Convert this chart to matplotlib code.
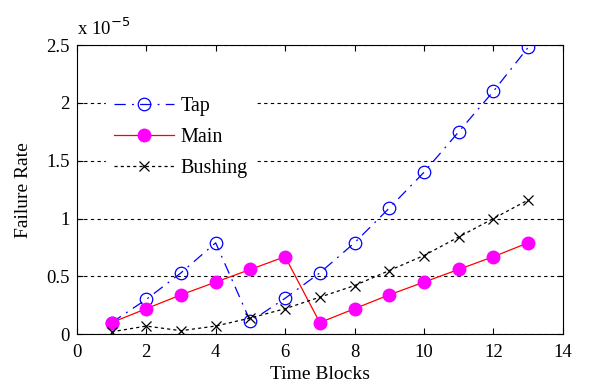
import matplotlib
matplotlib.use('Agg')
from matplotlib import pyplot as plt

blocks = list(range(1, 14))
tap = [0.10, 0.30, 0.53, 0.79, 0.11, 0.31, 0.53, 0.79, 1.09, 1.40, 1.75, 2.10, 2.48]
main = [0.10, 0.22, 0.34, 0.45, 0.56, 0.67, 0.10, 0.22, 0.34, 0.45, 0.56, 0.67, 0.79]
bushing = [0.02, 0.07, 0.03, 0.07, 0.14, 0.22, 0.32, 0.42, 0.55, 0.68, 0.84, 1.00, 1.16]

plt.rcParams['font.family'] = ['Liberation Serif', 'DejaVu Serif']
plt.rcParams['font.size'] = 13.5

fig = plt.figure(figsize=(6, 3.89), dpi=100)
ax = fig.add_axes([0.128, 0.141, 0.81, 0.743])

ax.plot(blocks, tap, color='#0000ff', linestyle=(0, (9, 5, 1.5, 5)), linewidth=0.9,
        marker='o', markersize=9, markerfacecolor='none', markeredgewidth=0.9, label='Tap')
ax.plot(blocks, main, color='#ff0000', linestyle='-', linewidth=0.9,
        marker='o', markersize=9, markerfacecolor='#ff00ff', markeredgecolor='#ff00ff',
        label='Main')
ax.plot(blocks, bushing, color='black', linestyle=(0, (2.5, 2.5)), linewidth=0.9,
        marker='x', markersize=7, markeredgewidth=0.9, label='Bushing')

ax.set_xlim(0, 14)
ax.set_ylim(0, 2.5)
ax.set_xticks(range(0, 15, 2))
ax.set_yticks([0, 0.5, 1, 1.5, 2, 2.5])
ax.set_yticklabels(['0', '0.5', '1', '1.5', '2', '2.5'])
ax.yaxis.grid(True, color='black', linestyle=(0, (3, 3)), linewidth=0.8)
ax.set_axisbelow(True)
ax.tick_params(direction='in', top=True, right=True, length=4, width=0.8, pad=7)
ax.tick_params(axis='y', pad=5)
for s in ax.spines.values():
    s.set_linewidth(0.8)

# scale factor above the y axis
ax.text(0.0, 1.02, r'x 10$^{-5}$', transform=ax.transAxes, ha='left', va='bottom',
        fontsize=13.5)

ax.set_xlabel('Time Blocks', fontsize=14, labelpad=4)
ax.set_ylabel('Failure Rate', fontsize=14, labelpad=10)

leg = ax.legend(loc='upper left', bbox_to_anchor=(0.06, 0.85), frameon=True,
                fontsize=14.5, handlelength=3.0, handletextpad=0.3,
                borderaxespad=0, labelspacing=0.6, fancybox=False)
leg.get_frame().set_edgecolor('white')
leg.get_frame().set_facecolor('white')
leg.get_frame().set_alpha(1)

fig.savefig('out.png', dpi=100)
